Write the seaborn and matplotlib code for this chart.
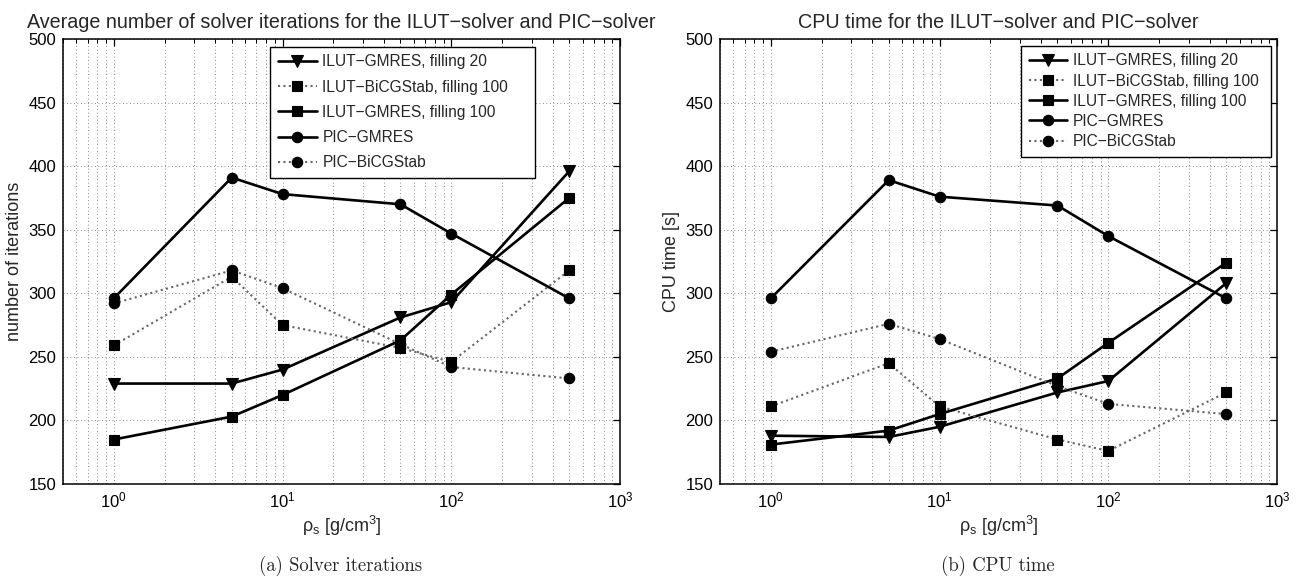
import matplotlib
matplotlib.use("Agg")
import matplotlib.pyplot as plt
import matplotlib.ticker as mticker
import numpy as np
import pandas as pd
import seaborn as sns

# Solid density values (g/cm^3)
rho_s = [1, 5, 10, 50, 100, 500]

series_names = [
    "ILUT\u2212GMRES, filling 20",
    "ILUT\u2212BiCGStab, filling 100",
    "ILUT\u2212GMRES, filling 100",
    "PIC\u2212GMRES",
    "PIC\u2212BiCGStab",
]

# Average number of solver iterations
iter_ilut_gmres_20 = [229, 229, 240, 281, 293, 396]
iter_ilut_bicg_100 = [259, 313, 275, 257, 246, 318]
iter_ilut_gmres_100 = [185, 203, 220, 263, 299, 375]
iter_pic_gmres = [296, 391, 378, 370, 347, 296]
iter_pic_bicg = [292, 318, 304, 260, 242, 233]

# CPU time in seconds
cpu_ilut_gmres_20 = [188, 187, 195, 222, 231, 308]
cpu_ilut_bicg_100 = [211, 245, 211, 185, 176, 222]
cpu_ilut_gmres_100 = [181, 192, 205, 233, 261, 324]
cpu_pic_gmres = [296, 389, 376, 369, 345, 296]
cpu_pic_bicg = [254, 276, 264, 227, 213, 205]

y_ticks = [150, 200, 250, 300, 350, 400, 450, 500]

iter_data = [iter_ilut_gmres_20, iter_ilut_bicg_100, iter_ilut_gmres_100,
             iter_pic_gmres, iter_pic_bicg]
cpu_data = [cpu_ilut_gmres_20, cpu_ilut_bicg_100, cpu_ilut_gmres_100,
            cpu_pic_gmres, cpu_pic_bicg]

DOT = (0, (1, 1.6))
styles = [
    dict(marker="v", ls="-", ms=8.5, lw=1.9, color="black"),
    dict(marker="s", ls=DOT, ms=6.5, lw=1.5, color="0.4"),
    dict(marker="s", ls="-", ms=6.5, lw=1.9, color="black"),
    dict(marker="o", ls="-", ms=7.5, lw=1.9, color="black"),
    dict(marker="o", ls=DOT, ms=7.5, lw=1.5, color="0.4"),
]

sns.set_theme(style="white")
plt.rcParams["font.family"] = ["Liberation Sans", "DejaVu Sans"]
plt.rcParams["mathtext.fontset"] = "custom"
plt.rcParams["mathtext.rm"] = "Liberation Sans"
plt.rcParams["mathtext.it"] = "Liberation Sans"
plt.rcParams["mathtext.default"] = "regular"

TICK_FS = 12
LABEL_FS = 13
TITLE_FS = 14.2
LEG_FS = 11.2

fig = plt.figure(figsize=(12.98, 5.77), dpi=100)
ax_l = fig.add_axes([63 / 1298, 93 / 577, 557 / 1298, 445 / 577])
ax_r = fig.add_axes([720 / 1298, 93 / 577, 557 / 1298, 445 / 577])


def draw_panel(ax, data, title, ylabel, leg_box, leg_spacing, leg_pad):
    for name, vals, st in zip(series_names, data, styles):
        df = pd.DataFrame({"rho": rho_s, "val": vals})
        st = dict(st)
        ls = st.pop("ls")
        sns.lineplot(data=df, x="rho", y="val", ax=ax, label=name,
                     linestyle=ls, markeredgewidth=0.8,
                     markeredgecolor="black", markerfacecolor="black", **st)
    ax.set_xscale("log")
    ax.set_xlim(0.5, 1000)
    ax.set_ylim(150, 500)
    ax.set_yticks(y_ticks)
    ax.xaxis.set_major_locator(mticker.LogLocator(base=10, numticks=10))
    ax.xaxis.set_minor_locator(mticker.LogLocator(base=10, subs=np.arange(2, 10), numticks=20))
    ax.xaxis.set_minor_formatter(mticker.NullFormatter())
    ax.yaxis.set_minor_locator(mticker.NullLocator())

    grid_kw = dict(ls=(0, (1, 3.2)), color="0.4", lw=0.6)
    ax.grid(True, which="major", axis="both", **grid_kw)
    ax.grid(True, which="minor", axis="x", **grid_kw)
    ax.set_axisbelow(True)

    ax.tick_params(which="both", direction="in", top=True, right=True,
                   labelsize=TICK_FS, colors="black", pad=5)
    ax.tick_params(which="major", length=5, width=0.9)
    ax.tick_params(which="minor", length=3, width=0.7)
    for sp in ax.spines.values():
        sp.set_color("black")
        sp.set_linewidth(1.1)

    ax.set_title(title, fontsize=TITLE_FS, pad=8)
    ax.set_ylabel(ylabel, fontsize=LABEL_FS, labelpad=4)
    ax.set_xlabel("\u03c1$_s$ [g/cm$^3$]", fontsize=LABEL_FS, labelpad=2)

    handles, labels = ax.get_legend_handles_labels()
    leg = ax.legend(handles, labels, loc="upper left", bbox_to_anchor=leg_box,
                    mode="expand", fontsize=LEG_FS, frameon=True, fancybox=False,
                    framealpha=1, edgecolor="black", handlelength=2.5,
                    handletextpad=0.35, labelspacing=leg_spacing,
                    borderpad=leg_pad, borderaxespad=0)
    leg.get_frame().set_linewidth(1.0)


draw_panel(ax_l, iter_data,
           "Average number of solver iterations for the ILUT\u2212solver and PIC\u2212solver",
           "number of iterations", (0.372, 0.0, 0.475, 0.983), 0.66, 0.5)
draw_panel(ax_r, cpu_data,
           "CPU time for the ILUT\u2212solver and PIC\u2212solver",
           "CPU time [s]", (0.540, 0.0, 0.449, 0.985), 0.33, 0.5)

fig.text(341 / 1298, 1 - 566 / 577, "(a) Solver iterations", ha="center", va="center",
         fontsize=13.5, family=["cmr10", "DejaVu Serif"])
fig.text(998 / 1298, 1 - 566 / 577, "(b) CPU time", ha="center", va="center",
         fontsize=13.5, family=["cmr10", "DejaVu Serif"])

fig.savefig("out.png", dpi=100, facecolor="white")
